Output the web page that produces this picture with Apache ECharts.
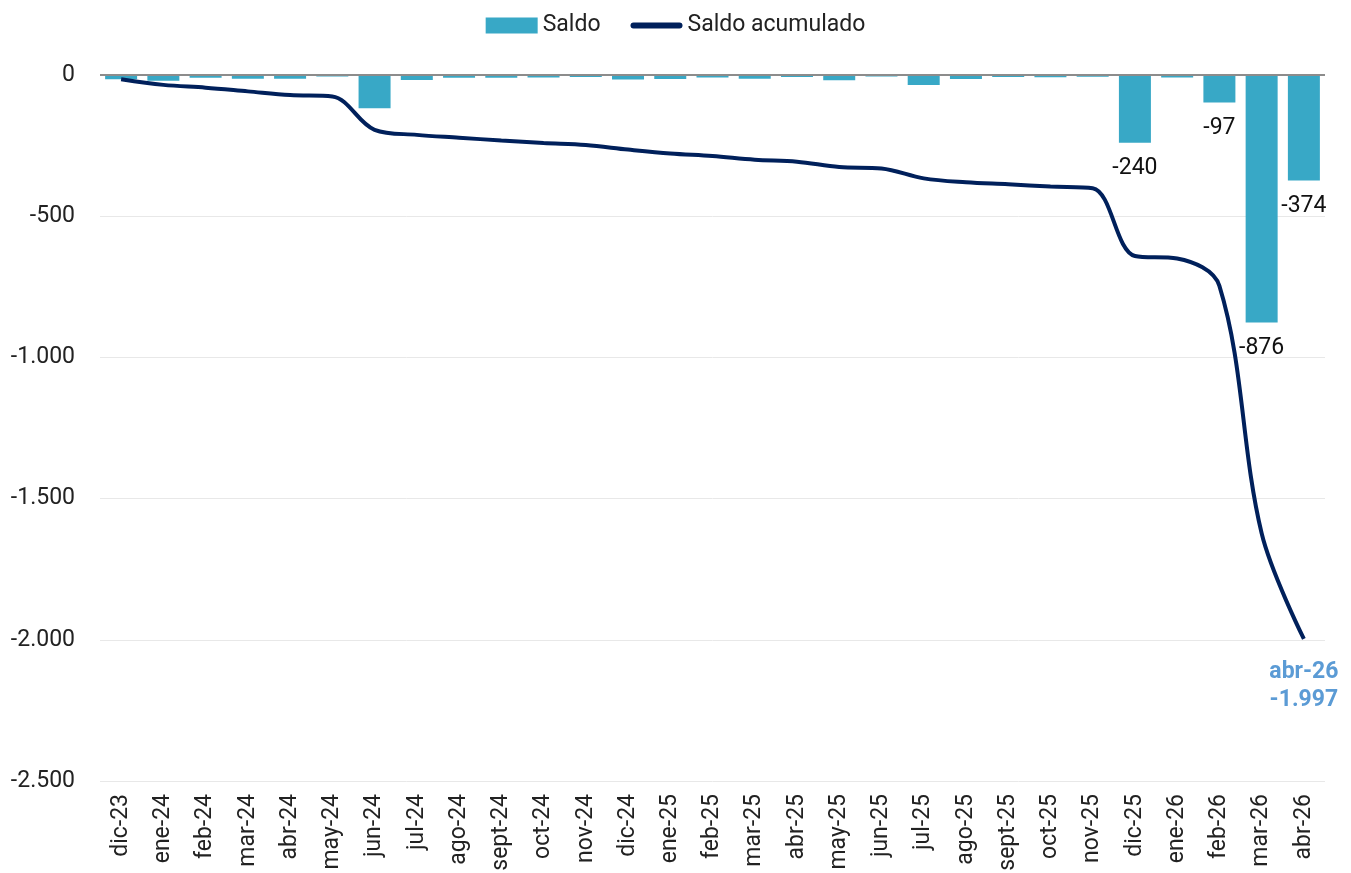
<!DOCTYPE html>
<html>
<head>
<meta charset="utf-8">
<script src="https://cdn.jsdelivr.net/npm/echarts@6/dist/echarts.min.js"></script>
<style>
  html, body { margin: 0; padding: 0; overflow: hidden; background: #fff; }
  #main { width: 1351px; height: 930px; }
</style>
</head>
<body>
<div id="main"></div>
<script>
  // meses
  const months = ['dic-23', 'ene-24', 'feb-24', 'mar-24', 'abr-24', 'may-24', 'jun-24', 'jul-24', 'ago-24', 'sept-24',
    'oct-24', 'nov-24', 'dic-24', 'ene-25', 'feb-25', 'mar-25', 'abr-25', 'may-25', 'jun-25', 'jul-25',
    'ago-25', 'sept-25', 'oct-25', 'nov-25', 'dic-25', 'ene-26', 'feb-26', 'mar-26', 'abr-26'];
  // saldo mensual
  const saldo = [-15, -20, -10, -13, -13, -5, -118, -18, -10, -10,
    -9, -7, -16, -14, -9, -13, -7, -19, -5, -35,
    -14, -7, -8, -6, -240, -9, -97, -876, -374];
  // saldo acumulado
  const acumulado = [-15, -35, -45, -58, -71, -76, -194, -212, -222, -232,
    -241, -248, -264, -278, -287, -300, -307, -326, -331, -366,
    -380, -387, -395, -401, -641, -650, -747, -1623, -1997];
  // eje y
  const yTicks = [0, -500, -1000, -1500, -2000, -2500];
  const labelled = [-240, -97, -876, -374];

  // formato con punto de miles
  function fmt(v) {
    let s = Math.abs(v).toString().replace(/\B(?=(\d{3})+(?!\d))/g, '.');
    return (v < 0 ? '-' : '') + s;
  }

  let chart = echarts.init(document.getElementById('main'));
  const last = months.length - 1;

  chart.setOption({
    textStyle: { fontFamily: 'Roboto' },
    legend: {
      top: 9,
      left: 'center',
      itemWidth: 52,
      itemHeight: 16,
      itemGap: 30,
      textStyle: { fontSize: 23, color: '#222' },
      data: [
        { name: 'Saldo', icon: 'rect' },
        { name: 'Saldo acumulado', icon: 'path://M3,0 L49,0 A3,3 0 0 1 49,6 L3,6 A3,3 0 0 1 3,0 Z' }
      ]
    },
    grid: { left: 100, right: 26, top: 75, bottom: 149, containLabel: false },
    xAxis: {
      type: 'category',
      data: months,
      axisLine: { show: false, onZero: false },
      axisTick: { show: false },
      axisLabel: { rotate: 90, fontSize: 23, color: '#222', margin: 13, interval: 0 }
    },
    yAxis: {
      type: 'value',
      min: yTicks[yTicks.length - 1],
      max: yTicks[0],
      interval: 500,
      axisLine: { show: false },
      axisTick: { show: false },
      axisLabel: { fontSize: 23, color: '#222', margin: 25, formatter: fmt },
      splitLine: { lineStyle: { color: '#e8e8e8', width: 1 } }
    },
    series: [
      {
        name: 'Saldo',
        type: 'bar',
        barWidth: 32,
        itemStyle: { color: '#38A8C6' },
        data: saldo.map(v => ({
          value: v,
          label: {
            show: labelled.indexOf(v) >= 0,
            position: 'bottom',
            distance: 14,
            fontSize: 23,
            color: '#111',
            formatter: p => fmt(p.value)
          }
        })),
        markLine: {
          silent: true,
          symbol: 'none',
          label: { show: false },
          lineStyle: { color: '#8c8c8c', width: 2, type: 'solid' },
          data: [{ yAxis: 0 }]
        },
        z: 2
      },
      {
        name: 'Saldo acumulado',
        type: 'line',
        smooth: 0.35,
        showSymbol: true,
        symbol: 'circle',
        symbolSize: 0,
        lineStyle: { color: '#00205B', width: 4 },
        itemStyle: { color: '#00205B' },
        data: acumulado.map((v, i) => ({
          value: v,
          label: {
            show: i === last,
            position: 'bottom',
            distance: 19,
            fontSize: 23,
            fontWeight: 'bold',
            lineHeight: 28,
            align: 'center',
            color: '#5B9BD5',
            formatter: p => months[p.dataIndex] + '\n' + fmt(p.value)
          }
        })),
        z: 3
      }
    ]
  });
</script>
</body>
</html>
